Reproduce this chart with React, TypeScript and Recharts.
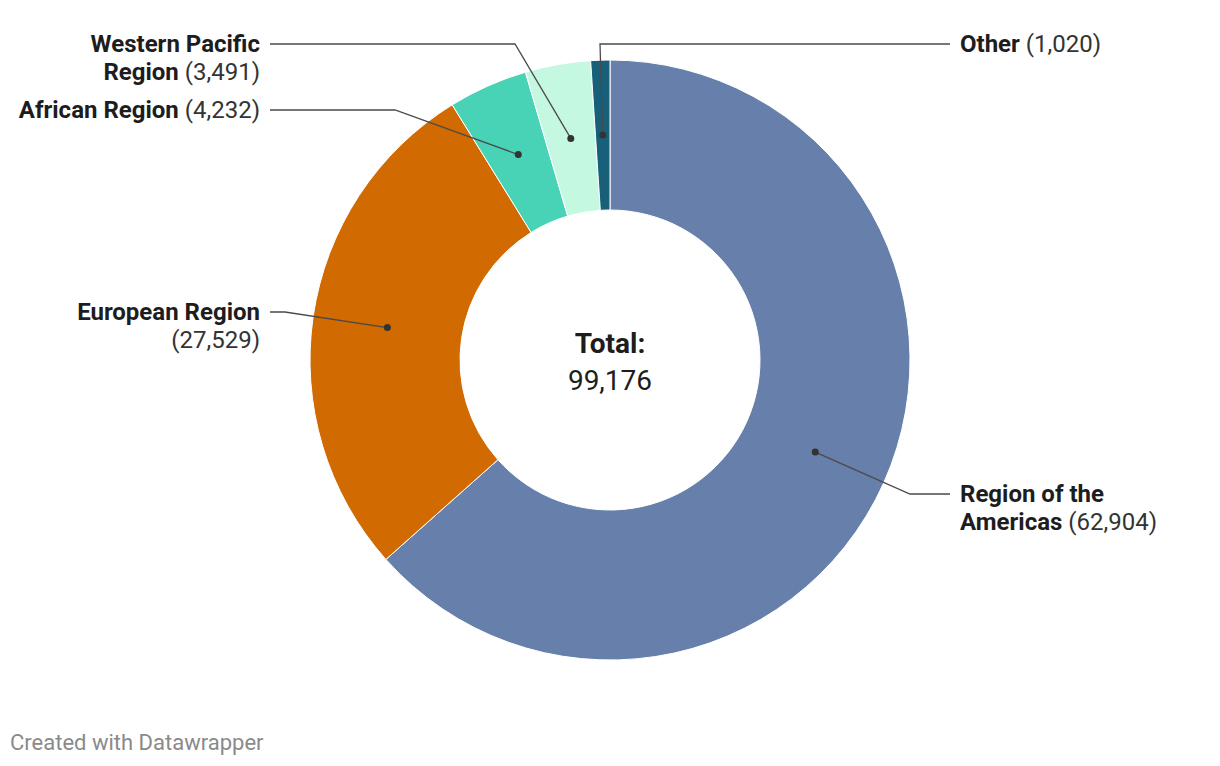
import React from "react";
import { PieChart, Pie, Cell } from "recharts";

const regions = ["Region of the Americas", "European Region", "African Region", "Western Pacific Region", "Other"];
const cases = [62904, 27529, 4232, 3491, 1020];
const colors = ["#667fab", "#d16a00", "#48d3b6", "#c5f8e1", "#18607a"];
// bold parts of the label, one entry per line; the value goes after the last one
const labelLines = [
  ["Region of the", "Americas"],
  ["European Region", ""],
  ["African Region"],
  ["Western Pacific", "Region"],
  ["Other"],
];

const total = cases.reduce((a, b) => a + b, 0);
const fmt = (n: number) => n.toLocaleString("en-US");

const data = regions.map((name, i) => ({ name, value: cases[i] }));

// leader line layout: elbow point, end of horizontal, text side
const callouts = [
  { ex: 910, ey: 494, hx: 950, side: "right" },
  { ex: 285, ey: 312, hx: 270, side: "left" },
  { ex: 395, ey: 110, hx: 270, side: "left" },
  { ex: 515, ey: 44, hx: 270, side: "left" },
  { ex: 600, ey: 44, hx: 950, side: "right" },
];

const FONT = "Roboto, sans-serif";
const RAD = Math.PI / 180;
const CX = 610;
const CY = 360;

function renderLabel(props: any) {
  const { cx, cy, midAngle, innerRadius, outerRadius, index } = props;
  const r = (innerRadius + outerRadius) / 2;
  const px = cx + r * Math.cos(-midAngle * RAD);
  const py = cy + r * Math.sin(-midAngle * RAD);
  const c = callouts[index];
  const right = c.side === "right";
  const tx = right ? c.hx + 10 : c.hx - 10;
  const anchor = right ? "start" : "end";
  const lines = labelLines[index];
  const val = `(${fmt(cases[index])})`;
  return (
    <g key={`lbl-${index}`}>
      <polyline
        points={`${px},${py} ${c.ex},${c.ey} ${c.hx},${c.ey}`}
        fill="none"
        stroke="#4a4a4a"
        strokeWidth={1.3}
      />
      <circle cx={px} cy={py} r={3.5} fill="#333" />
      <text x={tx} y={c.ey} textAnchor={anchor} dominantBaseline="central" fontFamily={FONT} fontSize={24} fill="#1d1d1d">
        {lines.length === 1 ? (
          <tspan x={tx}>
            <tspan fontWeight={700}>{lines[0]}</tspan>
            <tspan fill="#333"> {val}</tspan>
          </tspan>
        ) : (
          <>
            <tspan x={tx} fontWeight={700}>{lines[0]}</tspan>
            <tspan x={tx} dy={28}>
              {lines[1] ? <tspan fontWeight={700}>{lines[1]}</tspan> : null}
              <tspan fill="#333">{lines[1] ? " " : ""}{val}</tspan>
            </tspan>
          </>
        )}
      </text>
    </g>
  );
}

export default function App() {
  return (
    <div style={{ position: "absolute", left: 0, top: 0, width: 1220, height: 766, background: "#fff" }}>
      <PieChart width={1220} height={766} margin={{ top: 0, right: 0, bottom: 0, left: 0 }}>
        <Pie
          data={data}
          dataKey="value"
          nameKey="name"
          cx={CX}
          cy={CY}
          innerRadius={150}
          outerRadius={300}
          startAngle={90}
          endAngle={-270}
          stroke="#fff"
          strokeWidth={1}
          label={renderLabel}
          labelLine={false}
          isAnimationActive={false}
        >
          {data.map((d, i) => (
            <Cell key={d.name} fill={colors[i]} />
          ))}
        </Pie>
      </PieChart>
      <div
        style={{
          position: "absolute",
          left: 0,
          width: 1220,
          top: 325,
          textAlign: "center",
          fontFamily: FONT,
          fontSize: 28,
          lineHeight: "37px",
          color: "#1d1d1d",
        }}
      >
        <div style={{ fontWeight: 700 }}>Total:</div>
        <div>{fmt(total)}</div>
      </div>
      <div
        style={{
          position: "absolute",
          left: 10,
          top: 730,
          fontFamily: FONT,
          fontSize: 22,
          color: "#8a8a8a",
        }}
      >
        Created with Datawrapper
      </div>
    </div>
  );
}
